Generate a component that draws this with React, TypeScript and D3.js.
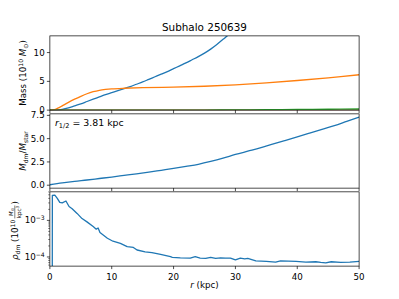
import React from "react";
import * as d3 from "d3";

const W = 399;
const H = 299;

// Panel 1: enclosed mass (10^10 Msun)
const massR = [0,1,2,3,4,5,6,7,8,9,10,11,12,13,14,15,16,17,18,19,20,21,22,23,24,25,26,27,28,29,30];
const massDM = [0,0.02,0.15,0.4,0.75,1.1,1.5,1.9,2.3,2.7,3.05,3.4,3.75,4.1,4.5,4.9,5.35,5.8,6.25,6.7,7.2,7.7,8.2,8.75,9.3,9.9,10.6,11.4,12.3,13.2,14.2];
const starR = [0,0.5,1,1.5,2,3,4,5,6,7,8,9,10,12,15,20,25,30,35,40,45,50];
const massStar = [0,0.05,0.2,0.45,0.75,1.35,1.9,2.4,2.85,3.2,3.45,3.6,3.7,3.8,3.9,4.0,4.15,4.4,4.75,5.15,5.6,6.15];
const gasR = [0,10,20,25,30,35,40,45,50];
const massGas = [0,0,0,0.01,0.04,0.08,0.12,0.16,0.2];
const bhR = [0,50];
const massBH = [0,0];

// Panel 2: Mdm / Mstar
const ratioR = [0,2,4,6,8,10,12,14,16,18,20,22,24,26,28,30,32,34,36,38,40,42,44,46,48,50];
const ratio = [0.05,0.25,0.42,0.56,0.72,0.88,1.05,1.22,1.4,1.6,1.8,2.02,2.25,2.55,2.9,3.3,3.65,4.0,4.4,4.8,5.2,5.6,6.0,6.4,6.85,7.3];

// Panel 3: DM density (10^10 Msun / kpc^3)
const rhoR = [0.37,0.4,0.8,1.2,1.6,2.0,2.6,3.1,3.6,4.4,5.2,6.0,7.0,7.5,7.8,8.1,9.3,10.2,11.4,12.5,13.5,14.1,15.4,16.5,17.9,19.5,19.8,21.1,22.7,23.5,24.3,25.2,26.0,26.8,27.6,28.4,29.2,30.0,30.8,31.5,32.0,33.3,35.0,36.5,37.3,39.8,41.4,43.0,43.8,44.6,45.5,47.0,48.5,50.0];
const rho = [1e-9,4.79e-3,4.9e-3,3.98e-3,3.09e-3,3.02e-3,3.39e-3,2.4e-3,2.09e-3,1.55e-3,1.12e-3,9.1e-4,6.8e-4,5.75e-4,6.17e-4,4.68e-4,3.24e-4,2.69e-4,2.34e-4,1.91e-4,1.82e-4,1.55e-4,1.38e-4,1.32e-4,1.17e-4,1.02e-4,9.8e-5,9.5e-5,9.3e-5,1.02e-4,9.3e-5,9.1e-5,9.8e-5,9.1e-5,9.5e-5,9.3e-5,9.3e-5,8.3e-5,9.3e-5,8.9e-5,9.1e-5,7.8e-5,7.6e-5,7.2e-5,7.8e-5,7.6e-5,7.2e-5,7.4e-5,7.1e-5,6.9e-5,7.4e-5,7.1e-5,7.2e-5,7.6e-5];

const xTicks = [0,10,20,30,40,50];
const y1Ticks = [0,5,10];
const y2Ticks = [0,2.5,5,7.5];
const y3Ticks = [-4,-3];

const BLUE = "#1f77b4";
const ORANGE = "#ff7f0e";
const GREEN = "#2ca02c";
const RED = "#d62728";
const FONT = "DejaVu Sans, sans-serif";
const FS = 8.7;

const L = 0.125 * W;
const R = 0.9 * W;
const TOP = H * 0.12;
const BOT = H * 0.89;
const PH = (BOT - TOP) / 3.1;
const GAP = PH * 0.05;
const pTop = [0, 1, 2].map((i) => TOP + i * (PH + GAP));
const pBot = pTop.map((t) => t + PH);

const x = d3.scaleLinear().domain([0, 50]).range([L, R]);
const y1 = d3.scaleLinear().domain([0, 12.9]).range([pBot[0], pTop[0]]);
const rMin = d3.min(ratio)!, rMax = d3.max(ratio)!;
const rPad = (rMax - rMin) * 0.05;
const y2 = d3.scaleLinear().domain([rMin - rPad, rMax + rPad]).range([pBot[1], pTop[1]]);
const y3 = d3.scaleLog().domain([Math.pow(10, -4.25), Math.pow(10, -2.22)]).range([pBot[2], pTop[2]]);

function path(xs: number[], ys: number[], ys_: (v: number) => number, curve: any = d3.curveCatmullRom) {
  const pts = xs.map((v, i) => [v, ys[i]] as [number, number]);
  return d3.line<[number, number]>().x((d) => x(d[0])).y((d) => ys_(d[1])).curve(curve)(pts) || "";
}

const minor3: number[] = [];
for (let dd = -5; dd <= -2; dd++) for (let k = 2; k <= 9; k++) {
  const v = k * Math.pow(10, dd);
  if (v > y3.domain()[0] && v < y3.domain()[1]) minor3.push(v);
}

export default function App() {
  const lw = 1.3;
  const sw = 0.7;
  const tl = 3;
  return (
    <svg width={W} height={H} style={{ position: "absolute", left: 0, top: 0, background: "#fff" }} fontFamily={FONT}>
      <defs>
        {[0, 1, 2].map((i) => (
          <clipPath id={`clip${i}`} key={i}>
            <rect x={L} y={pTop[i]} width={R - L} height={PH} />
          </clipPath>
        ))}
      </defs>
      <rect width={W} height={H} fill="#fff" />
      <text x={(L + R) / 2} y={31} textAnchor="middle" fontSize={10.4} fill="#000">Subhalo 250639</text>

      <g clipPath="url(#clip0)" fill="none" strokeWidth={lw}>
        <path d={path(massR, massDM, y1)} stroke={BLUE} />
        <path d={path(starR, massStar, y1)} stroke={ORANGE} />
        <path d={path(bhR, massBH, y1, d3.curveLinear)} stroke={RED} />
        <path d={path(gasR, massGas, y1)} stroke={GREEN} />
      </g>
      <g clipPath="url(#clip1)" fill="none" strokeWidth={lw}>
        <path d={path(ratioR, ratio, y2)} stroke={BLUE} />
      </g>
      <g clipPath="url(#clip2)" fill="none" strokeWidth={lw}>
        <path d={path(rhoR, rho, (v) => y3(v), d3.curveLinear)} stroke={BLUE} strokeLinejoin="round" />
      </g>

      {[0, 1, 2].map((i) => (
        <g key={i} stroke="#000" strokeWidth={sw}>
          <rect x={L} y={pTop[i]} width={R - L} height={PH} fill="none" />
          {xTicks.map((t) => (
            <line key={t} x1={x(t)} x2={x(t)} y1={pBot[i]} y2={pBot[i] + tl} />
          ))}
        </g>
      ))}
      {xTicks.map((t) => (
        <text key={t} x={x(t)} y={pBot[2] + 14} textAnchor="middle" fontSize={FS}>{t}</text>
      ))}
      <text x={(L + R) / 2} y={288} textAnchor="middle" fontSize={FS}>
        <tspan fontStyle="italic">r</tspan> (kpc)
      </text>

      {y1Ticks.map((t) => (
        <g key={t}>
          <line x1={L - tl} x2={L} y1={y1(t)} y2={y1(t)} stroke="#000" strokeWidth={sw} />
          <text x={L - tl - 2.2} y={y1(t) + 3.1} textAnchor="end" fontSize={FS}>{t}</text>
        </g>
      ))}
      {y2Ticks.map((t) => (
        <g key={t}>
          <line x1={L - tl} x2={L} y1={y2(t)} y2={y2(t)} stroke="#000" strokeWidth={sw} />
          <text x={L - tl - 2.2} y={y2(t) + 3.1} textAnchor="end" fontSize={FS}>{t.toFixed(1)}</text>
        </g>
      ))}
      {y3Ticks.map((t) => {
        const yy = y3(Math.pow(10, t));
        return (
          <g key={t}>
            <line x1={L - tl} x2={L} y1={yy} y2={yy} stroke="#000" strokeWidth={sw} />
            <text x={L - tl - 2.2} y={yy + 3.1} textAnchor="end" fontSize={FS}>
              10<tspan fontSize={6.1} dy={-3.5}>{"\u2212" + Math.abs(t)}</tspan>
            </text>
          </g>
        );
      })}
      {minor3.map((v) => (
        <line key={v} x1={L - 1.7} x2={L} y1={y3(v)} y2={y3(v)} stroke="#000" strokeWidth={0.5} />
      ))}

      <text x={55} y={126} fontSize={9.4}>
        <tspan fontStyle="italic">r</tspan>
        <tspan fontSize={6.6} dy={2}>1/2</tspan>
        <tspan dy={-2}>{"\u00a0=\u00a03.81 kpc"}</tspan>
      </text>

      <g transform={`translate(26, ${(pTop[0] + pBot[0]) / 2}) rotate(-90)`}>
        <text textAnchor="middle" fontSize={FS}>
          Mass (10<tspan fontSize={6.1} dy={-3.5}>10</tspan>
          <tspan dy={3.5}> </tspan>
          <tspan fontStyle="italic">M</tspan>
          <tspan fontSize={6.1} dy={1.8}>{"\u2299"}</tspan>
          <tspan dy={-1.8}>)</tspan>
        </text>
      </g>
      <g transform={`translate(26, ${(pTop[1] + pBot[1]) / 2}) rotate(-90)`}>
        <text textAnchor="middle" fontSize={FS}>
          <tspan fontStyle="italic">M</tspan>
          <tspan fontSize={6.1} dy={1.8}>dm</tspan>
          <tspan dy={-1.8}>/</tspan>
          <tspan fontStyle="italic">M</tspan>
          <tspan fontSize={6.1} dy={1.8}>star</tspan>
        </text>
      </g>
      <g transform={`translate(18, ${(pTop[2] + pBot[2]) / 2}) rotate(-90)`} fontSize={FS}>
        <text x={-31} y={0}>
          <tspan fontStyle="italic">{"\u03c1"}</tspan>
          <tspan fontSize={6.1} dy={1.8}>dm</tspan>
          <tspan dy={-1.8}>{" (10"}</tspan>
          <tspan fontSize={6.1} dy={-3.5}>10</tspan>
        </text>
        <text x={17} y={-5.2} fontSize={5.6} textAnchor="middle">
          <tspan fontStyle="italic">M</tspan>
          <tspan fontSize={4.2} dy={1.2}>{"\u2299"}</tspan>
        </text>
        <line x1={10.5} x2={23.5} y1={-3.2} y2={-3.2} stroke="#000" strokeWidth={0.5} />
        <text x={17} y={2.8} fontSize={5.6} textAnchor="middle">
          kpc<tspan fontSize={4.2} dy={-2}>3</tspan>
        </text>
        <text x={24.5} y={0}>)</text>
      </g>
    </svg>
  );
}
